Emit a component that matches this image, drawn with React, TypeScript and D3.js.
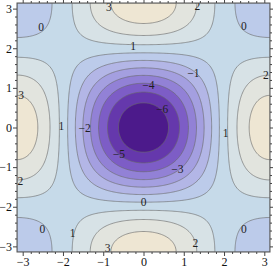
import React, { useEffect, useRef } from "react";
import * as d3 from "d3";

// contour levels and band colours (lowest band first)
const levels = [-6, -5, -4, -3, -2, -1, 0, 1, 2, 3];
const bandColors = [
  "#4c1a8b", "#6538ac", "#7d5dc6", "#9281d6", "#a49fe0", "#b3b6e6",
  "#bccbea", "#c6dae9", "#d7e2e6", "#e2e4de", "#eee6d3",
];
const tickValues = [-3, -2, -1, 0, 1, 2, 3];

// surface: value at centre, at edge middles, at corners
const centerValue = -7;
const edgePeak = 3.7;
const cornerValue = -0.8;

// contour labels (value, x, y in data units)
const labelValues = [0, 3, 2, 0, 1, -1, -4, -6, -2, 1, -5, -3, 3, 1, 0, 2, 2, 0, 1, 3, 2, 0];
const labelXs = [-2.54, -0.86, 1.34, 2.49, -0.26, 1.24, 0.12, 0.46, -1.46, -2.04, -0.61, 0.84, -3.04, 2.04, 0.0, -3.06, 3.04, -2.51, -1.76, -0.89, 1.29, 2.49];
const labelYs = [2.53, 3.04, 3.06, 2.56, 2.06, 1.37, 1.06, 0.46, 0.0, 0.03, -0.66, -1.04, 0.81, -0.15, -1.87, -1.34, 1.32, -2.56, -2.66, -3.04, -2.91, -2.56];

const W = 273, H = 270;
const margin = { left: 17, right: 3, top: 3, bottom: 18 };

function App() {
  const ref = useRef<SVGSVGElement>(null);

  useEffect(() => {
    const svg = d3.select(ref.current);
    svg.selectAll("*").remove();

    const pw = W - margin.left - margin.right;
    const ph = H - margin.top - margin.bottom;
    const x = d3.scaleLinear().domain([-Math.PI, Math.PI]).range([margin.left, margin.left + pw]);
    const y = d3.scaleLinear().domain([-Math.PI, Math.PI]).range([margin.top + ph, margin.top]);

    const a = (centerValue - cornerValue) / 4;
    const c = ((centerValue + cornerValue) / 2 + edgePeak) / 2;
    const b = c - edgePeak;
    const f = (u: number, v: number) =>
      a * (Math.cos(u) + Math.cos(v)) + b * Math.cos(u) * Math.cos(v) + c;

    const n = 220;
    const step = (2 * Math.PI) / n;
    const values: number[] = new Array(n * n);
    for (let j = 0; j < n; j++) {
      const vy = Math.PI - (j + 0.5) * step;
      for (let i = 0; i < n; i++) {
        const vx = -Math.PI + (i + 0.5) * step;
        values[j * n + i] = f(vx, vy);
      }
    }

    const gx = d3.scaleLinear().domain([0, n]).range([margin.left, margin.left + pw]);
    const gy = d3.scaleLinear().domain([0, n]).range([margin.top, margin.top + ph]);
    const path = d3.geoPath(
      d3.geoTransform({
        point(px: number, py: number) {
          this.stream.point(gx(px), gy(py));
        },
      })
    );

    const contours = d3.contours().size([n, n]).thresholds(levels)(values);

    svg.append("defs").append("clipPath").attr("id", "plotclip")
      .append("rect")
      .attr("x", margin.left).attr("y", margin.top)
      .attr("width", pw).attr("height", ph);

    const plot = svg.append("g").attr("clip-path", "url(#plotclip)");
    plot.append("rect")
      .attr("x", margin.left).attr("y", margin.top)
      .attr("width", pw).attr("height", ph)
      .attr("fill", bandColors[0]);

    plot.selectAll("path.band")
      .data(contours)
      .join("path")
      .attr("class", "band")
      .attr("d", (d: any) => path(d))
      .attr("fill", (_d: any, i: number) => bandColors[i + 1])
      .attr("stroke", "#6a6a6a")
      .attr("stroke-opacity", 0.85)
      .attr("stroke-width", 0.75);

    // contour labels
    plot.selectAll("text.lab")
      .data(labelValues)
      .join("text")
      .attr("class", "lab")
      .attr("x", (_d, i) => x(labelXs[i]))
      .attr("y", (_d, i) => y(labelYs[i]))
      .attr("text-anchor", "middle")
      .attr("dominant-baseline", "central")
      .attr("font-family", "Liberation Serif, serif")
      .attr("font-size", 11.5)
      .attr("fill", "#1e1e1e")
      .text((d) => (d < 0 ? "\u2212" + Math.abs(d) : String(d)));

    // frame
    svg.append("rect")
      .attr("x", margin.left).attr("y", margin.top)
      .attr("width", pw).attr("height", ph)
      .attr("fill", "none")
      .attr("stroke", "#555")
      .attr("stroke-width", 1);

    const minor = d3.range(-3.2, 3.21, 0.2).filter(
      (v) => Math.abs(v - Math.round(v)) > 0.01 && Math.abs(v) < Math.PI
    );
    const fmt = (v: number) => (v < 0 ? "\u2212" + Math.abs(v) : String(v));

    const bottom = svg.append("g").attr("transform", `translate(0,${margin.top + ph})`)
      .call(d3.axisBottom(x).tickValues(tickValues).tickSize(4).tickFormat(fmt as any));
    const left = svg.append("g").attr("transform", `translate(${margin.left},0)`)
      .call(d3.axisLeft(y).tickValues(tickValues).tickSize(4).tickFormat(fmt as any));
    const top = svg.append("g").attr("transform", `translate(0,${margin.top})`)
      .call(d3.axisTop(x).tickValues(tickValues).tickSize(4).tickFormat(() => ""));
    const right = svg.append("g").attr("transform", `translate(${margin.left + pw},0)`)
      .call(d3.axisRight(y).tickValues(tickValues).tickSize(4).tickFormat(() => ""));

    svg.append("g").attr("transform", `translate(0,${margin.top + ph})`)
      .call(d3.axisBottom(x).tickValues(minor).tickSize(2).tickFormat(() => ""));
    svg.append("g").attr("transform", `translate(${margin.left},0)`)
      .call(d3.axisLeft(y).tickValues(minor).tickSize(2).tickFormat(() => ""));
    svg.append("g").attr("transform", `translate(0,${margin.top})`)
      .call(d3.axisTop(x).tickValues(minor).tickSize(2).tickFormat(() => ""));
    svg.append("g").attr("transform", `translate(${margin.left + pw},0)`)
      .call(d3.axisRight(y).tickValues(minor).tickSize(2).tickFormat(() => ""));

    svg.selectAll(".domain").remove();
    svg.selectAll(".tick line").attr("stroke", "#444");
    [bottom, left, top, right].forEach((g) =>
      g.selectAll("text")
        .attr("font-family", "Liberation Serif, serif")
        .attr("font-size", 12)
        .attr("fill", "#111")
    );
    bottom.selectAll("text").attr("dy", "0.71em").attr("y", 5);
    left.selectAll("text").attr("x", -5);
  }, []);

  return (
    <div style={{ position: "fixed", left: 0, top: 0 }}>
      <svg ref={ref} width={W} height={H} style={{ display: "block", background: "#fff" }} />
    </div>
  );
}

export default App;
